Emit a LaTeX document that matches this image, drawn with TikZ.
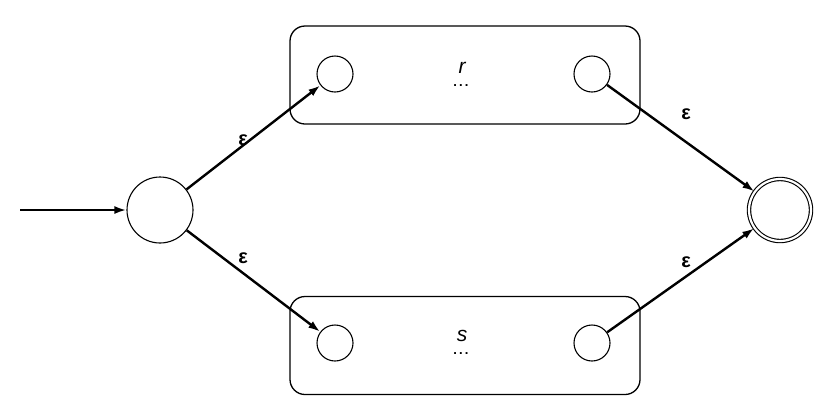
\documentclass[tikz,border=0pt]{standalone}
\usepackage{fontspec}
\setmainfont{Liberation Sans}
\usetikzlibrary{arrows.meta}
\begin{document}
\begin{tikzpicture}[x=1pt,y=-1pt,
  state/.style={circle,draw,line width=1.1pt,minimum size=36pt,inner sep=0pt},
  bigstate/.style={circle,draw,line width=1.1pt,minimum size=66pt,inner sep=0pt},
  accstate/.style={circle,draw,line width=1.1pt,double,double distance=2.2pt,minimum size=62pt,inner sep=0pt},
  box/.style={draw,line width=1.3pt,rounded corners=15pt,minimum width=350pt,minimum height=98pt,inner sep=0pt},
  trans/.style={line width=2.4pt,-{Latex[length=12pt,width=8pt]}},
  lab/.style={font=\bfseries\fontsize{20}{20}\selectfont,inner sep=0pt},
  boxname/.style={font=\itshape\fontsize{21}{21}\selectfont,inner sep=0pt},
  boxdots/.style={font=\bfseries\fontsize{13}{13}\selectfont,inner sep=0pt}]
\path[use as bounding box] (0,0) rectangle (835,408);
\node[box] (rbox) at (465,75) {};
\node[box] (sbox) at (465,345.5) {};
\node[bigstate] (start) at (160,210) {};
\node[accstate] (fin) at (780,210) {};
\node[state] (r1) at (335,74) {};
\node[state] (r2) at (592,74) {};
\node[state] (s1) at (335,343) {};
\node[state] (s2) at (592,343) {};
\node[boxname,anchor=base] (rname) at (462,73) {r};
\node[boxdots,anchor=base] (rdots) at (461,86) {.\,.\,.};
\node[boxname,anchor=base] (sname) at (462,341) {s};
\node[boxdots,anchor=base] (sdots) at (461,354) {.\,.\,.};
\coordinate (in) at (20,210);
\draw[trans] (in) -- (start);
\draw[trans] (start) -- (r1);
\draw[trans] (start) -- (s1);
\draw[trans] (r2) -- (fin);
\draw[trans] (s2) -- (fin);
\node[lab] (e1) at (243,140) {ε};
\node[lab] (e2) at (243,258) {ε};
\node[lab] (e3) at (686,114) {ε};
\node[lab] (e4) at (686,262) {ε};
\end{tikzpicture}
\end{document}
